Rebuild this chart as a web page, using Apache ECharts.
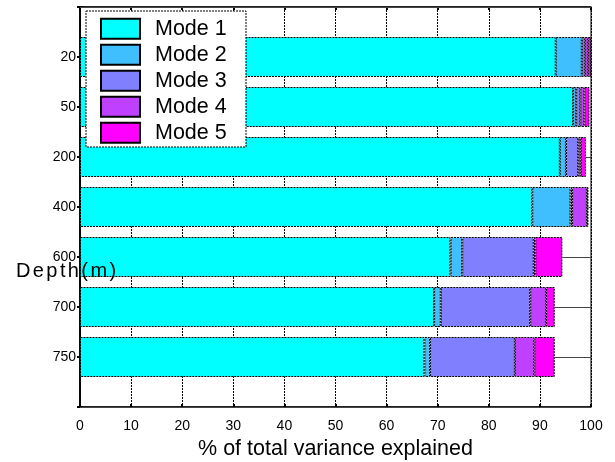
<!DOCTYPE html>
<html>
<head>
<meta charset="utf-8">
<script src="https://cdn.jsdelivr.net/npm/echarts@6/dist/echarts.min.js"></script>
<style>
  html, body { margin: 0; padding: 0; background: #fff; }
  #chart { width: 615px; height: 462px; }
</style>
</head>
<body>
<div id="chart"></div>
<script>
// Depth levels (m), top to bottom
const depths = ['20', '50', '200', '400', '600', '700', '750'];

// Share of total variance explained by each mode (%)
const mode1 = [93.1, 96.5, 93.9, 88.5, 72.5, 69.3, 67.4];
const mode2 = [5.1, 0.6, 1.2, 7.5, 2.3, 1.3, 1.1];
const mode3 = [0.6, 0.8, 2.4, 0.3, 14.0, 17.5, 16.6];
const mode4 = [0.6, 0.8, 0.5, 2.9, 0.3, 3.1, 3.8];
const mode5 = [0.6, 1.0, 1.0, 0.3, 5.3, 1.7, 4.0];

const modeNames = ['Mode 1', 'Mode 2', 'Mode 3', 'Mode 4', 'Mode 5'];
const xTicks = [0, 10, 20, 30, 40, 50, 60, 70, 80, 90, 100];

// "cool" colormap sampled at five points
const modeColors = ['#00ffff', '#40bfff', '#8080ff', '#bf40ff', '#ff00ff'];

const FONT = 'Liberation Sans, Arial, sans-serif';
const DASH = [2, 1];

// The depth axis has one empty slot above and below the bars
const yCats = [''].concat(depths, ['']);
const pad = arr => [null].concat(arr, [null]);

const allModes = [mode1, mode2, mode3, mode4, mode5];

const series = allModes.map((vals, i) => ({
  name: modeNames[i],
  type: 'bar',
  stack: 'total',
  barWidth: 40,
  data: pad(vals),
  itemStyle: {
    color: modeColors[i],
    borderColor: '#000',
    borderWidth: 1,
    borderType: DASH
  },
  emphasis: { disabled: true },
  z: 3
}));

const gridLine = { show: true, lineStyle: { color: '#000', width: 1, type: DASH } };

const W = 615, H = 462;
const GRID = { left: 80, right: 24, top: 7, bottom: 55 };

const chart = echarts.init(document.getElementById('chart'), null, { renderer: 'canvas', width: W, height: H });

chart.setOption({
  animation: false,
  backgroundColor: '#fff',
  grid: Object.assign({
    show: true, borderColor: '#000', borderWidth: 1, backgroundColor: 'transparent',
    containLabel: false, outerBoundsMode: 'none'
  }, GRID),
  xAxis: [{
    type: 'value',
    min: xTicks[0],
    max: xTicks[xTicks.length - 1],
    interval: 10,
    position: 'bottom',
    name: '% of total variance explained',
    nameLocation: 'middle',
    nameGap: 31,
    nameTextStyle: { fontFamily: FONT, fontSize: 21.5, color: '#000' },
    axisLine: { show: true, lineStyle: { color: '#000', width: 1.5 } },
    axisTick: { show: true, inside: true, length: 3, lineStyle: { color: '#000', width: 2 } },
    axisLabel: { fontFamily: FONT, fontSize: 14, color: '#000', margin: 12 },
    splitLine: gridLine
  }, {
    type: 'value',
    min: 0, max: 100, interval: 10,
    position: 'top',
    axisLine: { show: true, lineStyle: { color: '#000', width: 1.5 } },
    axisTick: { show: true, inside: true, length: 3, lineStyle: { color: '#000', width: 2 } },
    axisLabel: { show: false },
    splitLine: { show: false }
  }],
  yAxis: [{
    type: 'category',
    data: yCats,
    inverse: true,
    boundaryGap: false,
    position: 'left',
    axisLine: { show: true, lineStyle: { color: '#000', width: 1.5 } },
    axisTick: { show: true, inside: true, length: 3, interval: 0, lineStyle: { color: '#000', width: 2 } },
    axisLabel: { fontFamily: FONT, fontSize: 14, color: '#000', margin: 4, interval: 0 },
    splitLine: { show: false }
  }, {
    type: 'category',
    data: yCats,
    inverse: true,
    boundaryGap: false,
    position: 'right',
    axisLine: { show: true, lineStyle: { color: '#000', width: 1.5 } },
    axisTick: { show: true, inside: true, length: 3, interval: 0, lineStyle: { color: '#000', width: 2 } },
    axisLabel: { show: false },
    splitLine: { show: false }
  }],
  legend: {
    orient: 'vertical',
    left: 100,
    top: 17.7,
    padding: 0,
    itemWidth: 39,
    itemHeight: 20,
    itemGap: 4,
    icon: 'rect',
    selectedMode: false,
    data: modeNames,
    textStyle: { fontFamily: FONT, fontSize: 21.5, color: '#000', padding: [0, 0, 0, 10] },
    z: 10
  },
  series: series
});

// Horizontal grid lines through every depth slot; each runs from the end of
// its stacked bar to the right edge, so the bars sit over the grid.
const totals = depths.map((d, k) => allModes.reduce((s, m) => s + m[k], 0));
const hLines = yCats.map((c, i) => {
  const k = i - 1;
  const endVal = (k >= 0 && k < depths.length) ? totals[k] : 0;
  const p = chart.convertToPixel({ gridIndex: 0 }, [endVal, i]);
  const y = Math.round(p[1]) + 0.5;
  return {
    type: 'line',
    shape: { x1: p[0], y1: y, x2: W - GRID.right, y2: y },
    style: { stroke: '#444', lineWidth: 1 },
    z: 50
  };
});

chart.setOption({
  graphic: [{
    type: 'rect',
    shape: { x: 86, y: 11, width: 160, height: 136 },
    style: { fill: '#fff', stroke: '#000', lineWidth: 1, lineDash: DASH },
    z: 8
  }, {
    type: 'text',
    left: 16,
    top: 261,
    style: {
      text: 'Depth(m)'.split('').map(ch => '{s|' + ch + '}').join(''),
      rich: { s: { fontFamily: FONT, fontSize: 20, fill: '#000', padding: [0, 2.4, 0, 0] } }
    },
    z: 60
  }].concat(hLines)
});
</script>
</body>
</html>
